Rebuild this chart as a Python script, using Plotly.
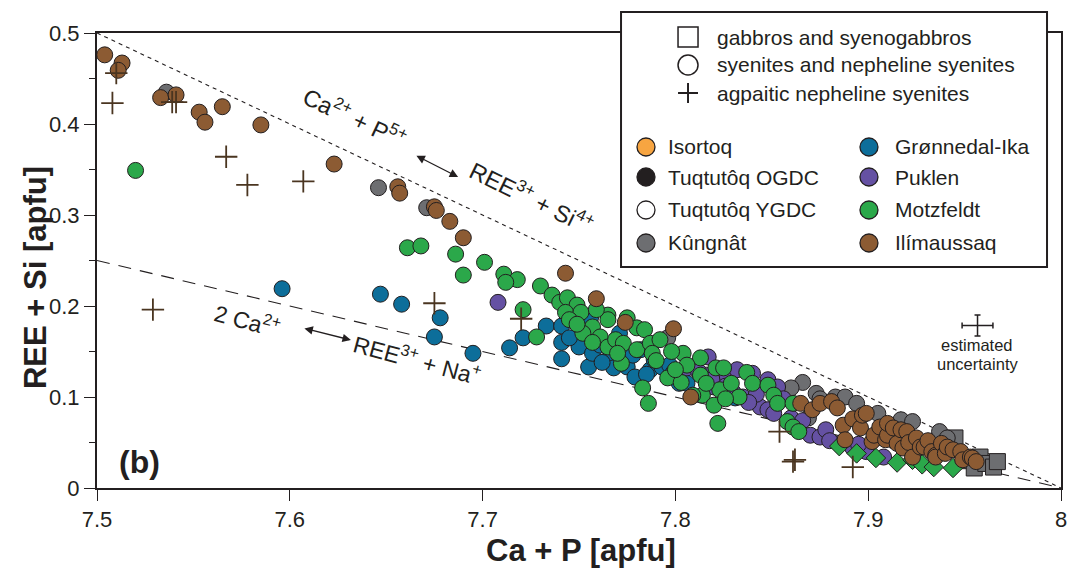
import plotly.graph_objects as go

# ---------------- data (Ca + P, REE + Si) in apfu ----------------
kungnat_gabbro = [(7.945, 0.055), (7.951, 0.030), (7.955, 0.022), (7.958, 0.034),
                  (7.961, 0.027), (7.965, 0.023), (7.967, 0.029)]

kungnat = [(7.536, 0.435), (7.646, 0.330), (7.671, 0.308), (7.796, 0.165), (7.866, 0.116),
           (7.860, 0.110), (7.869, 0.077), (7.873, 0.104), (7.875, 0.098), (7.883, 0.100),
           (7.888, 0.100), (7.894, 0.093), (7.905, 0.082), (7.917, 0.075), (7.923, 0.073),
           (7.937, 0.062), (7.941, 0.055)]

gronnedal = [(7.596, 0.219), (7.647, 0.213), (7.658, 0.202), (7.678, 0.187), (7.675, 0.166),
             (7.695, 0.148), (7.714, 0.154), (7.721, 0.165), (7.733, 0.178), (7.741, 0.178),
             (7.741, 0.160), (7.741, 0.142), (7.750, 0.155), (7.754, 0.174), (7.755, 0.133),
             (7.757, 0.148), (7.756, 0.187), (7.761, 0.157), (7.765, 0.141), (7.768, 0.132),
             (7.771, 0.170), (7.775, 0.133), (7.778, 0.146), (7.779, 0.122), (7.782, 0.152),
             (7.787, 0.130), (7.789, 0.141), (7.793, 0.133), (7.797, 0.135), (7.799, 0.127),
             (7.802, 0.115), (7.806, 0.115), (7.831, 0.099), (7.745, 0.165), (7.762, 0.138),
             (7.785, 0.125)]

puklen = [(7.708, 0.204), (7.806, 0.132), (7.816, 0.124), (7.817, 0.144), (7.820, 0.111),
          (7.819, 0.119), (7.827, 0.122), (7.832, 0.130), (7.835, 0.100), (7.840, 0.126),
          (7.848, 0.119), (7.853, 0.111), (7.844, 0.089), (7.848, 0.086), (7.851, 0.082),
          (7.860, 0.077), (7.870, 0.058), (7.875, 0.056), (7.878, 0.064), (7.885, 0.049),
          (7.892, 0.044), (7.908, 0.034), (7.864, 0.066), (7.899, 0.040), (7.842, 0.103),
          (7.812, 0.128), (7.826, 0.112), (7.838, 0.094), (7.856, 0.098), (7.866, 0.074),
          (7.880, 0.052), (7.895, 0.048), (7.830, 0.105)]

motzfeldt = [(7.520, 0.349), (7.661, 0.264), (7.668, 0.266), (7.686, 0.257), (7.690, 0.234),
             (7.701, 0.248), (7.711, 0.235), (7.718, 0.229), (7.712, 0.226), (7.730, 0.222),
             (7.721, 0.196), (7.728, 0.166), (7.736, 0.212), (7.740, 0.204), (7.744, 0.209),
             (7.749, 0.201), (7.743, 0.193), (7.751, 0.193), (7.757, 0.177), (7.765, 0.190),
             (7.765, 0.185), (7.761, 0.166), (7.765, 0.155), (7.769, 0.163), (7.775, 0.187),
             (7.780, 0.176), (7.784, 0.174), (7.773, 0.159), (7.780, 0.152), (7.787, 0.159),
             (7.792, 0.163), (7.788, 0.148), (7.772, 0.137), (7.783, 0.110), (7.786, 0.093),
             (7.796, 0.121), (7.804, 0.148), (7.803, 0.116), (7.813, 0.143), (7.813, 0.124),
             (7.814, 0.102), (7.820, 0.091), (7.822, 0.071), (7.821, 0.132), (7.825, 0.132),
             (7.823, 0.108), (7.837, 0.127), (7.840, 0.115), (7.848, 0.113), (7.851, 0.102),
             (7.853, 0.093), (7.861, 0.093), (7.858, 0.073), (7.861, 0.067), (7.864, 0.062),
             (7.745, 0.185), (7.752, 0.170), (7.759, 0.196), (7.770, 0.148), (7.790, 0.140),
             (7.798, 0.150), (7.806, 0.135), (7.829, 0.115), (7.833, 0.100), (7.809, 0.102),
             (7.800, 0.130), (7.816, 0.115), (7.826, 0.098), (7.757, 0.160), (7.749, 0.180)]

motzfeldt_diamond = [(7.885, 0.046), (7.894, 0.038), (7.904, 0.033), (7.915, 0.028),
                     (7.923, 0.031), (7.928, 0.026), (7.934, 0.023), (7.944, 0.022)]

ilimaussaq = [(7.504, 0.476), (7.513, 0.467), (7.511, 0.459), (7.533, 0.429), (7.541, 0.432),
              (7.553, 0.413), (7.556, 0.402), (7.565, 0.419), (7.585, 0.399), (7.623, 0.356),
              (7.656, 0.331), (7.657, 0.324), (7.675, 0.309), (7.676, 0.305), (7.683, 0.293),
              (7.690, 0.275), (7.743, 0.236), (7.759, 0.208), (7.774, 0.182), (7.799, 0.175),
              (7.808, 0.100), (7.865, 0.093), (7.871, 0.086), (7.875, 0.093), (7.881, 0.095),
              (7.884, 0.088), (7.887, 0.069), (7.888, 0.053), (7.892, 0.076), (7.896, 0.066),
              (7.897, 0.080), (7.899, 0.082), (7.902, 0.051), (7.903, 0.058), (7.906, 0.067),
              (7.909, 0.053), (7.910, 0.058), (7.910, 0.071), (7.913, 0.066), (7.915, 0.049),
              (7.917, 0.064), (7.918, 0.044), (7.920, 0.062), (7.921, 0.050), (7.923, 0.034),
              (7.925, 0.055), (7.927, 0.045), (7.929, 0.045), (7.931, 0.052), (7.933, 0.040),
              (7.935, 0.036), (7.935, 0.034), (7.938, 0.049), (7.940, 0.038), (7.941, 0.045),
              (7.944, 0.042), (7.948, 0.040), (7.949, 0.031), (7.953, 0.034), (7.954, 0.033),
              (7.956, 0.029)]

agpaitic = [(7.510, 0.456), (7.508, 0.423), (7.539, 0.424), (7.541, 0.424), (7.567, 0.364),
            (7.578, 0.333), (7.607, 0.337), (7.529, 0.196), (7.675, 0.203), (7.720, 0.186),
            (7.854, 0.062), (7.862, 0.031), (7.861, 0.029), (7.892, 0.023)]

# substitution reference lines (end points)
line_x = [7.5, 8.0]
line_si_y = [0.5, 0.0]     # Ca + P  <->  REE + Si
line_na_y = [0.25, 0.0]    # 2 Ca    <->  REE + Na

# estimated uncertainty
unc_x, unc_y, unc_dx, unc_dy = [7.9567], [0.1786], [0.008], [0.0115]

# legend
shape_labels = ["gabbros and syenogabbros", "syenites and nepheline syenites", "agpaitic nepheline syenites"]
complex_names = ["Isortoq", "Tuqtutôq OGDC", "Tuqtutôq YGDC", "Kûngnât",
                 "Grønnedal-Ika", "Puklen", "Motzfeldt", "Ilímaussaq"]
complex_colors = ["#F7A541", "#231F20", "#FFFFFF", "#6D6E71",
                  "#0D6E9A", "#6551A3", "#2BA84A", "#8C5B33"]
col = dict(zip(complex_names, complex_colors))

INK = "#231F20"
FONT = "Liberation Sans, Arial, Helvetica, sans-serif"
MS = 16

fig = go.Figure()

for ys, dash in [(line_si_y, "4px,4px"), (line_na_y, "13px,9px")]:
    fig.add_trace(go.Scatter(x=line_x, y=ys, mode="lines", hoverinfo="skip",
                             line=dict(color=INK, width=1.1, dash=dash)))


def add_group(pts, color, symbol="circle", size=MS):
    fig.add_trace(go.Scatter(
        x=[p[0] for p in pts], y=[p[1] for p in pts], mode="markers", cliponaxis=False,
        marker=dict(symbol=symbol, size=size, color=color, line=dict(color=INK, width=1))))


add_group(kungnat_gabbro, col["Kûngnât"], "square", 16)
add_group(kungnat, col["Kûngnât"])
add_group(gronnedal, col["Grønnedal-Ika"])
add_group(puklen, col["Puklen"])
add_group(motzfeldt, col["Motzfeldt"])
add_group(motzfeldt_diamond, col["Motzfeldt"], "diamond", 15)
add_group(ilimaussaq, col["Ilímaussaq"])
fig.add_trace(go.Scatter(
    x=[p[0] for p in agpaitic], y=[p[1] for p in agpaitic], mode="markers", cliponaxis=False,
    marker=dict(symbol="cross-thin", size=16, color="#4A3520", line=dict(color="#4A3520", width=1.8))))

fig.add_trace(go.Scatter(
    x=unc_x, y=unc_y, mode="markers", marker=dict(size=1, color="rgba(0,0,0,0)"),
    error_x=dict(type="data", array=unc_dx, color=INK, thickness=1.5, width=3),
    error_y=dict(type="data", array=unc_dy, color=INK, thickness=1.5, width=3)))

annotations = []


def txt(text, x, y, size, ref="paper", angle=0, xanchor="center", bold=False):
    annotations.append(dict(
        text=("<b>%s</b>" % text) if bold else text, x=x, y=y, xref=ref if ref == "paper" else "x",
        yref=ref if ref == "paper" else "y", showarrow=False, textangle=angle,
        xanchor=xanchor, yanchor="middle", font=dict(family=FONT, size=size, color=INK)))


def arrow(x0, y0, x1, y1):
    annotations.append(dict(x=x1, y=y1, ax=x0, ay=y0, xref="x", yref="y", axref="x", ayref="y",
                            text="", showarrow=True, arrowhead=2, startarrowhead=2,
                            arrowside="end+start", arrowsize=1.3, startarrowsize=1.3,
                            arrowwidth=1.3, arrowcolor=INK, standoff=0, startstandoff=0))


# substitution labels
txt("Ca<sup>2+</sup> + P<sup>5+</sup>", 7.6338, 0.4077, 23.5, ref="data", angle=25)
txt("REE<sup>3+</sup> + Si<sup>4+</sup>", 7.7256, 0.3198, 23.5, ref="data", angle=26)
txt("2 Ca<sup>2+</sup>", 7.5783, 0.1846, 23, ref="data", angle=15)
txt("REE<sup>3+</sup> + Na<sup>+</sup>", 7.6660, 0.1420, 23, ref="data", angle=15)
arrow(7.6649, 0.3659, 7.6873, 0.3418)
arrow(7.6068, 0.1758, 7.6317, 0.1626)

# uncertainty text
txt("estimated", 7.9565, 0.1566, 16.5, ref="data")
txt("uncertainty", 7.9565, 0.1367, 16.5, ref="data")

# titles and panel label
txt("Ca + P [apfu]", 0.502, -0.1363, 31, bold=True)
txt("REE + Si [apfu]", -0.0643, 0.4615, 31, angle=-90, bold=True)
txt("(b)", 0.0446, 0.0571, 32, bold=True)

# ---- manual legend ----
shapes = [dict(type="rect", xref="paper", yref="paper", x0=0.5436, x1=0.9855, y0=0.4857, y1=1.0462,
               fillcolor="white", line=dict(color=INK, width=2), layer="above")]


def pix_shape(kind, xc, yc, half, **kw):
    d = dict(type=kind, xref="paper", yref="paper", xsizemode="pixel", ysizemode="pixel",
             xanchor=xc, yanchor=yc, x0=-half, x1=half, y0=-half, y1=half, layer="above")
    d.update(kw)
    return d


sym_x, lab_x = 0.6131, 0.6411
shape_rows = [0.9912, 0.9297, 0.8681]
shapes.append(pix_shape("rect", sym_x, shape_rows[0], 10, fillcolor="white", line=dict(color=INK, width=1.5)))
shapes.append(pix_shape("circle", sym_x, shape_rows[1], 10, fillcolor="white", line=dict(color=INK, width=1.5)))
shapes.append(dict(type="line", xref="paper", yref="paper", xsizemode="pixel", ysizemode="pixel",
                   xanchor=sym_x, yanchor=shape_rows[2], x0=-10, x1=10, y0=0, y1=0,
                   line=dict(color=INK, width=2), layer="above"))
shapes.append(dict(type="line", xref="paper", yref="paper", xsizemode="pixel", ysizemode="pixel",
                   xanchor=sym_x, yanchor=shape_rows[2], x0=0, x1=0, y0=-10, y1=10,
                   line=dict(color=INK, width=2), layer="above"))
for lab, yy in zip(shape_labels, shape_rows):
    txt(lab, lab_x, yy, 21, xanchor="left")

rows = [0.7495, 0.6835, 0.6110, 0.5385]
for i, name in enumerate(complex_names):
    cx, tx = (0.5695, 0.5903) if i < 4 else (0.8008, 0.8257)
    yy = rows[i % 4]
    shapes.append(pix_shape("circle", cx, yy, 9, fillcolor=col[name], line=dict(color=INK, width=1.3)))
    txt(name, tx, yy, 21, xanchor="left")

axis_common = dict(showline=True, linecolor=INK, linewidth=2, mirror=True, ticks="outside",
                   ticklen=11, tickwidth=1.2, tickcolor=INK, showgrid=False, zeroline=False,
                   automargin=False, tickfont=dict(family=FONT, size=22, color=INK))

fig.update_layout(
    width=1070, height=575, autosize=False, showlegend=False,
    margin=dict(l=97, r=9, t=33, b=87, pad=0, autoexpand=False),
    paper_bgcolor="white", plot_bgcolor="white",
    xaxis=dict(range=[7.5, 8.0], dtick=0.1, tick0=7.5, **axis_common),
    yaxis=dict(range=[0, 0.5], dtick=0.1, tick0=0,
               minor=dict(dtick=0.05, ticks="outside", ticklen=6, tickcolor=INK, tickwidth=1.2),
               **axis_common),
    annotations=annotations, shapes=shapes,
)

fig.write_html("out.html", config={"displayModeBar": False})
